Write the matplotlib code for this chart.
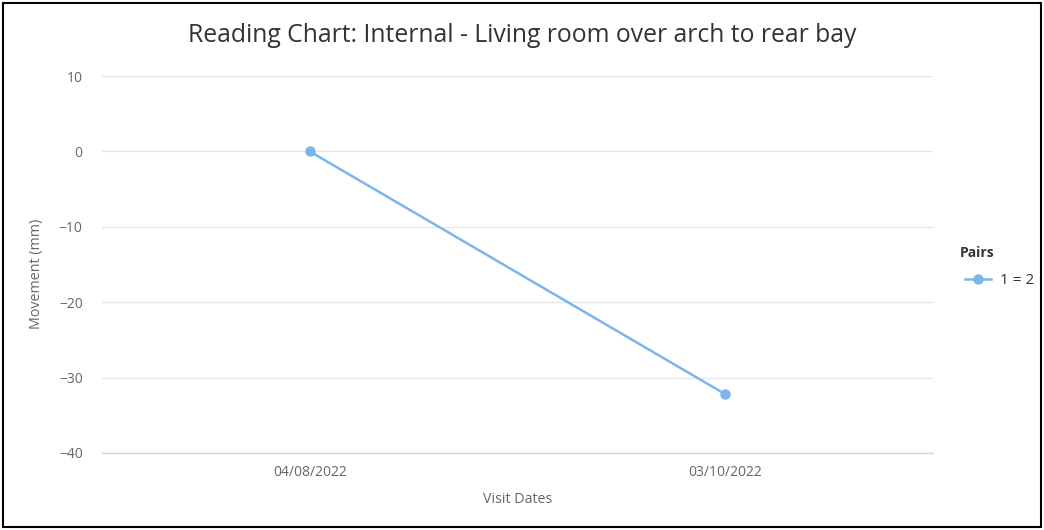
import matplotlib
matplotlib.use("Agg")
import matplotlib.pyplot as plt
from matplotlib.patches import Rectangle
from matplotlib.lines import Line2D

categories = ["04/08/2022", "03/10/2022"]
series_name = "1 = 2"
values = [0.0, -32.2]
y_ticks = [10, 0, -10, -20, -30, -40]

plt.rcParams['font.family'] = ['Open Sans', 'DejaVu Sans']

W, H = 1044, 530
fig = plt.figure(figsize=(W / 100, H / 100), dpi=100)
fig.patch.set_facecolor("white")

ax = fig.add_axes([102 / W, (H - 453) / H, (933 - 102) / W, (453 - 76) / H])
x = list(range(len(categories)))
ax.plot(x, values, color="#7cb5ec", lw=1.8, marker="o", ms=6.5, zorder=3,
        solid_capstyle="round")
ax.set_xlim(-0.5, len(categories) - 0.5)
ax.set_ylim(-40, 10)
ax.set_yticks(y_ticks)
ax.set_yticklabels([str(v).replace("-", "\u2212") for v in y_ticks])
ax.set_xticks(x)
ax.set_xticklabels(categories)
ax.grid(axis="y", color="#e6e6e6", lw=1)
ax.set_axisbelow(True)
for s in ["top", "right", "left"]:
    ax.spines[s].set_visible(False)
ax.spines["bottom"].set_color("#ccd6eb")
ax.spines["bottom"].set_linewidth(1)
ax.tick_params(axis="y", length=0, pad=14, labelsize=10, labelcolor="#666666")
ax.tick_params(axis="x", length=0, pad=9, labelsize=10, labelcolor="#666666")
ax.set_xlabel("Visit Dates", fontsize=10.3, color="#666666", labelpad=8)
ax.set_ylabel("Movement (mm)", fontsize=10.3, color="#666666")
ax.yaxis.set_label_coords((44 - 102) / 831, (453 - 274) / 377)

fig.text(0.5, (H - 35) / H, "Reading Chart: Internal - Living room over arch to rear bay",
         ha="center", va="center", fontsize=17.8, color="#333333")

# Legend
fig.text(960 / W, (H - 253) / H, "Pairs", ha="left", va="center", fontsize=10,
         fontweight="bold", color="#333333")
handle = Line2D([0], [0], color="#7cb5ec", lw=1.8, marker="o", ms=6.5)
leg = fig.legend([handle], [series_name], loc="center left",
                 bbox_to_anchor=(951 / W, (H - 281) / H), frameon=False,
                 fontsize=11, handlelength=1.7, handletextpad=0.6,
                 labelcolor="#333333")

fig.add_artist(Rectangle((3 / W, 3 / H), (W - 6) / W, (H - 6) / H,
                         transform=fig.transFigure, fill=False,
                         edgecolor="black", lw=1.5))

fig.savefig("out.png", dpi=100, facecolor="white")
